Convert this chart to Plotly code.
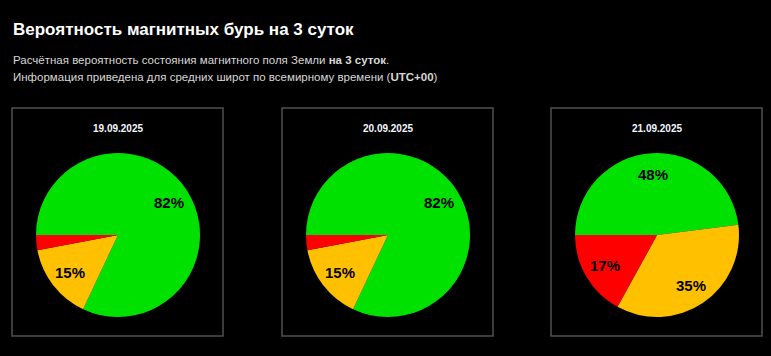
import math
import plotly.graph_objects as go

W, H = 771, 356

dates = ["19.09.2025", "20.09.2025", "21.09.2025"]
labels = ["Спокойное", "Возмущённое", "Буря"]
green_vals = [82, 82, 48]
yellow_vals = [15, 15, 35]
red_vals = [3, 3, 17]
colors = ["#00E100", "#FFC000", "#FF0000"]

title = "Вероятность магнитных бурь на 3 суток"
sub1 = "Расчётная вероятность состояния магнитного поля Земли <b>на 3 суток</b>."
sub2 = "Информация приведена для средних широт по всемирному времени (<b>UTC+00</b>)"

FONT = "Liberation Sans, Arial, sans-serif"

# layout geometry (pixels)
box_left = [12, 282, 551]
box_w, box_top, box_bot = 211, 108, 336
pie_r = 82
pie_cy = 235
start_bearing = 270  # first slice starts at 9 o'clock, clockwise
label_frac = 0.74

fig = go.Figure()
shapes = []
annotations = []
for i, d in enumerate(dates):
    vals = [green_vals[i], yellow_vals[i], red_vals[i]]
    total = sum(vals)
    cx = box_left[i] + box_w / 2 + 0.5
    fig.add_trace(go.Pie(
        labels=labels, values=vals, sort=False, direction="clockwise",
        rotation=start_bearing, marker=dict(colors=colors, line=dict(width=0)),
        textinfo="none", hoverinfo="label+percent", showlegend=False,
        domain=dict(x=[(cx - pie_r) / W, (cx + pie_r) / W],
                    y=[1 - (pie_cy + pie_r) / H, 1 - (pie_cy - pie_r) / H]),
    ))
    # slice labels at the mid-angle of each slice (computed from the data)
    cum = 0
    for v in vals:
        mid = math.radians(start_bearing + 360 * (cum + v / 2) / total)
        cum += v
        if v / total < 0.05:
            continue
        lx = cx + label_frac * pie_r * math.sin(mid)
        ly = pie_cy - label_frac * pie_r * math.cos(mid)
        annotations.append(dict(text=f"<b>{round(100 * v / total)}%</b>",
                                xref="paper", yref="paper", x=lx / W, y=1 - ly / H,
                                xanchor="center", yanchor="middle", showarrow=False,
                                font=dict(family=FONT, size=15, color="#000000")))
    shapes.append(dict(type="rect", xref="paper", yref="paper",
                       x0=box_left[i] / W, x1=(box_left[i] + box_w) / W,
                       y0=1 - box_bot / H, y1=1 - box_top / H,
                       line=dict(color="#505050", width=1.5)))
    annotations.append(dict(text=f"<b>{d}</b>", xref="paper", yref="paper",
                            x=cx / W, y=1 - 128 / H, xanchor="center", yanchor="middle",
                            showarrow=False,
                            font=dict(family=FONT, size=10, color="#f2f6ff")))

annotations += [
    dict(text=f"<b>{title}</b>", xref="paper", yref="paper", x=11 / W, y=1 - 30 / H,
         xanchor="left", yanchor="middle", showarrow=False,
         font=dict(family=FONT, size=17, color="#ffffff")),
    dict(text=sub1, xref="paper", yref="paper", x=11 / W, y=1 - 60 / H,
         xanchor="left", yanchor="middle", showarrow=False,
         font=dict(family=FONT, size=11.5, color="#d8d8d8")),
    dict(text=sub2, xref="paper", yref="paper", x=11 / W, y=1 - 77 / H,
         xanchor="left", yanchor="middle", showarrow=False,
         font=dict(family=FONT, size=11.5, color="#d8d8d8")),
]

fig.update_layout(
    width=W, height=H, margin=dict(l=0, r=0, t=0, b=0),
    paper_bgcolor="#000000", plot_bgcolor="#000000",
    shapes=shapes, annotations=annotations,
)

fig.write_html("out.html", config={"displayModeBar": False},
               post_script="document.body.style.margin='0';document.body.style.background='#000';")
